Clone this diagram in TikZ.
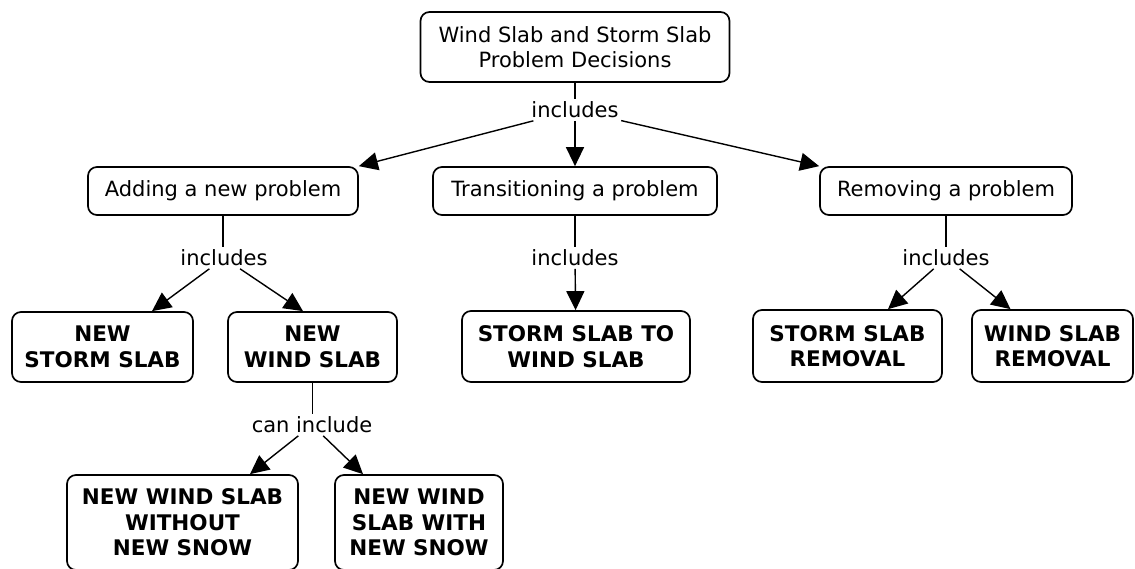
\documentclass[tikz,border=0pt]{standalone}
\usepackage{fontspec}
\setmainfont{DejaVu Sans}
\usetikzlibrary{arrows.meta}
\begin{document}
\begin{tikzpicture}[x=1pt,y=-1pt,
  box/.style={draw=black,line width=1.7pt,rounded corners=9pt,align=center,inner sep=2pt,
    font=\fontsize{21}{25}\selectfont},
  bbox/.style={box,font=\fontsize{21.5}{25.5}\selectfont\bfseries},
  lbl/.style={inner sep=2.5pt,font=\fontsize{21}{25}\selectfont},
  link/.style={line width=1.4pt},
  arr/.style={line width=1.4pt,-{Triangle[length=19pt,width=18pt]}}]
\useasboundingbox (0,0) rectangle (1135,569);
% concepts
\node[box,minimum width=309pt,minimum height=70pt] (top) at (575,47) {Wind Slab and Storm Slab\\Problem Decisions};
\node[box,minimum width=270pt,minimum height=48pt] (add) at (223,191) {Adding a new problem};
\node[box,minimum width=284pt,minimum height=48pt] (tra) at (575,191) {Transitioning a problem};
\node[box,minimum width=252pt,minimum height=48pt] (rem) at (946,191) {Removing a problem};
\node[bbox,minimum width=181pt,minimum height=70pt] (nss) at (102.5,347) {NEW\\STORM SLAB};
\node[bbox,minimum width=169pt,minimum height=70pt] (nws) at (312.5,347) {NEW\\WIND SLAB};
\node[bbox,minimum width=228pt,minimum height=71pt] (stw) at (576,346.5) {STORM SLAB TO\\WIND SLAB};
\node[bbox,minimum width=189pt,minimum height=72pt] (ssr) at (847.5,346) {STORM SLAB\\REMOVAL};
\node[bbox,minimum width=161pt,minimum height=72pt] (wsr) at (1052.5,346) {WIND SLAB\\REMOVAL};
\node[bbox,minimum width=231pt,minimum height=95pt] (bl) at (182.5,522.5) {NEW WIND SLAB\\WITHOUT\\NEW SNOW};
\node[bbox,minimum width=168pt,minimum height=95pt] (br) at (419,522.5) {NEW WIND\\SLAB WITH\\NEW SNOW};
% linking phrases
\node[lbl] (l0) at (575,110) {includes};
\node[lbl] (l1) at (224,258) {includes};
\node[lbl] (l2) at (575,258) {includes};
\node[lbl] (l3) at (946,258) {includes};
\node[lbl] (l4) at (312,425) {can include};
% connectors
\draw[link] (top) -- (l0);
\draw[arr] (l0) -- (add.north east);
\draw[arr] (l0) -- (tra);
\draw[arr] (l0) -- (rem.north west);
\draw[link] (add.south) -- (add.south |- l1.north);
\draw[arr] (l1) -- ([xshift=49.5pt]nss.north);
\draw[arr] (l1) -- ([xshift=-9.5pt]nws.north);
\draw[link] (tra) -- (l2);
\draw[arr] (l2) -- (stw);
\draw[link] (rem) -- (l3);
\draw[arr] (l3) -- ([xshift=40.5pt]ssr.north);
\draw[arr] (l3) -- ([xshift=-42pt]wsr.north);
\draw[link] (nws.south) -- (nws.south |- l4.north);
\draw[arr] (l4) -- ([xshift=67.5pt]bl.north);
\draw[arr] (l4) -- ([xshift=-56pt]br.north);
\end{tikzpicture}
\end{document}
